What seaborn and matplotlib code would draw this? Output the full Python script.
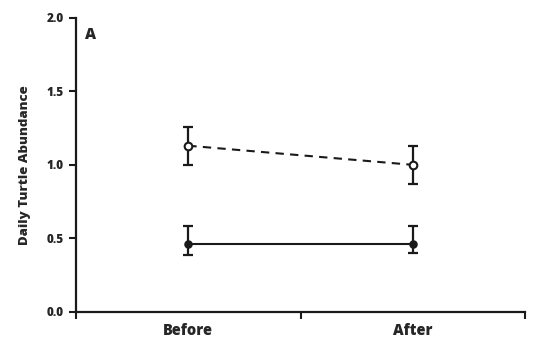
import pandas as pd
import matplotlib.pyplot as plt
import seaborn as sns

# values
periods = ['Before', 'After']
open_mean = [1.13, 1.00]
open_lo = [1.00, 0.87]
open_hi = [1.26, 1.13]
filled_mean = [0.46, 0.46]
filled_lo = [0.39, 0.40]
filled_hi = [0.585, 0.585]

sns.set_style('ticks')
plt.rcParams['font.family'] = ['Open Sans', 'DejaVu Sans']
plt.rcParams['font.weight'] = 'bold'

df_open = pd.DataFrame({'period': periods, 'mean': open_mean})
df_filled = pd.DataFrame({'period': periods, 'mean': filled_mean})

fig = plt.figure(figsize=(5.4, 3.56), dpi=100)
ax = fig.add_axes([0.141, 0.124, 0.831, 0.826])

sns.pointplot(data=df_open, x='period', y='mean', order=periods, errorbar=None,
              color='#1a1a1a', linestyle=(0, (4, 3)), linewidth=1.5,
              marker='o', markersize=5.5, markerfacecolor='white',
              markeredgewidth=1.5, ax=ax, zorder=3)
sns.pointplot(data=df_filled, x='period', y='mean', order=periods, errorbar=None,
              color='#1a1a1a', linestyle='-', linewidth=1.5,
              marker='o', markersize=5, ax=ax, zorder=3)

# error bars
for means, lo, hi in [(open_mean, open_lo, open_hi), (filled_mean, filled_lo, filled_hi)]:
    xs = range(len(periods))
    err = [[m - l for m, l in zip(means, lo)], [h - m for m, h in zip(means, hi)]]
    ax.errorbar(xs, means, yerr=err, fmt='none', ecolor='#1a1a1a',
                elinewidth=1.6, capsize=3.5, capthick=1.6, zorder=2)

ax.set_xlim(-0.5, 1.5)
ax.set_ylim(0, 2.0)
ax.set_yticks([0, 0.5, 1.0, 1.5, 2.0])
ax.set_yticklabels(['0.0', '0.5', '1.0', '1.5', '2.0'], fontsize=8.5, fontweight='heavy')
ax.set_xticks([0, 1])
ax.set_xticklabels(periods, fontsize=10.5, fontweight='heavy')
ax.set_xticks([-0.5, 0.5, 1.5], minor=True)
ax.tick_params(axis='x', which='major', length=0, pad=8)
ax.tick_params(axis='x', which='minor', length=5, width=1.5, color='#1a1a1a')
ax.tick_params(axis='y', length=5, width=1.5, color='#1a1a1a', pad=4)
ax.set_xlabel('')
ax.set_ylabel('Daily Turtle Abundance', fontsize=9.5, fontweight='heavy', labelpad=11)

for s in ['left', 'bottom']:
    ax.spines[s].set_linewidth(1.6)
    ax.spines[s].set_color('#1a1a1a')
sns.despine(ax=ax)

ax.text(0.02, 0.97, 'A', transform=ax.transAxes, fontsize=11, fontweight='heavy',
        va='top', ha='left')

fig.savefig('out.png', dpi=100)
